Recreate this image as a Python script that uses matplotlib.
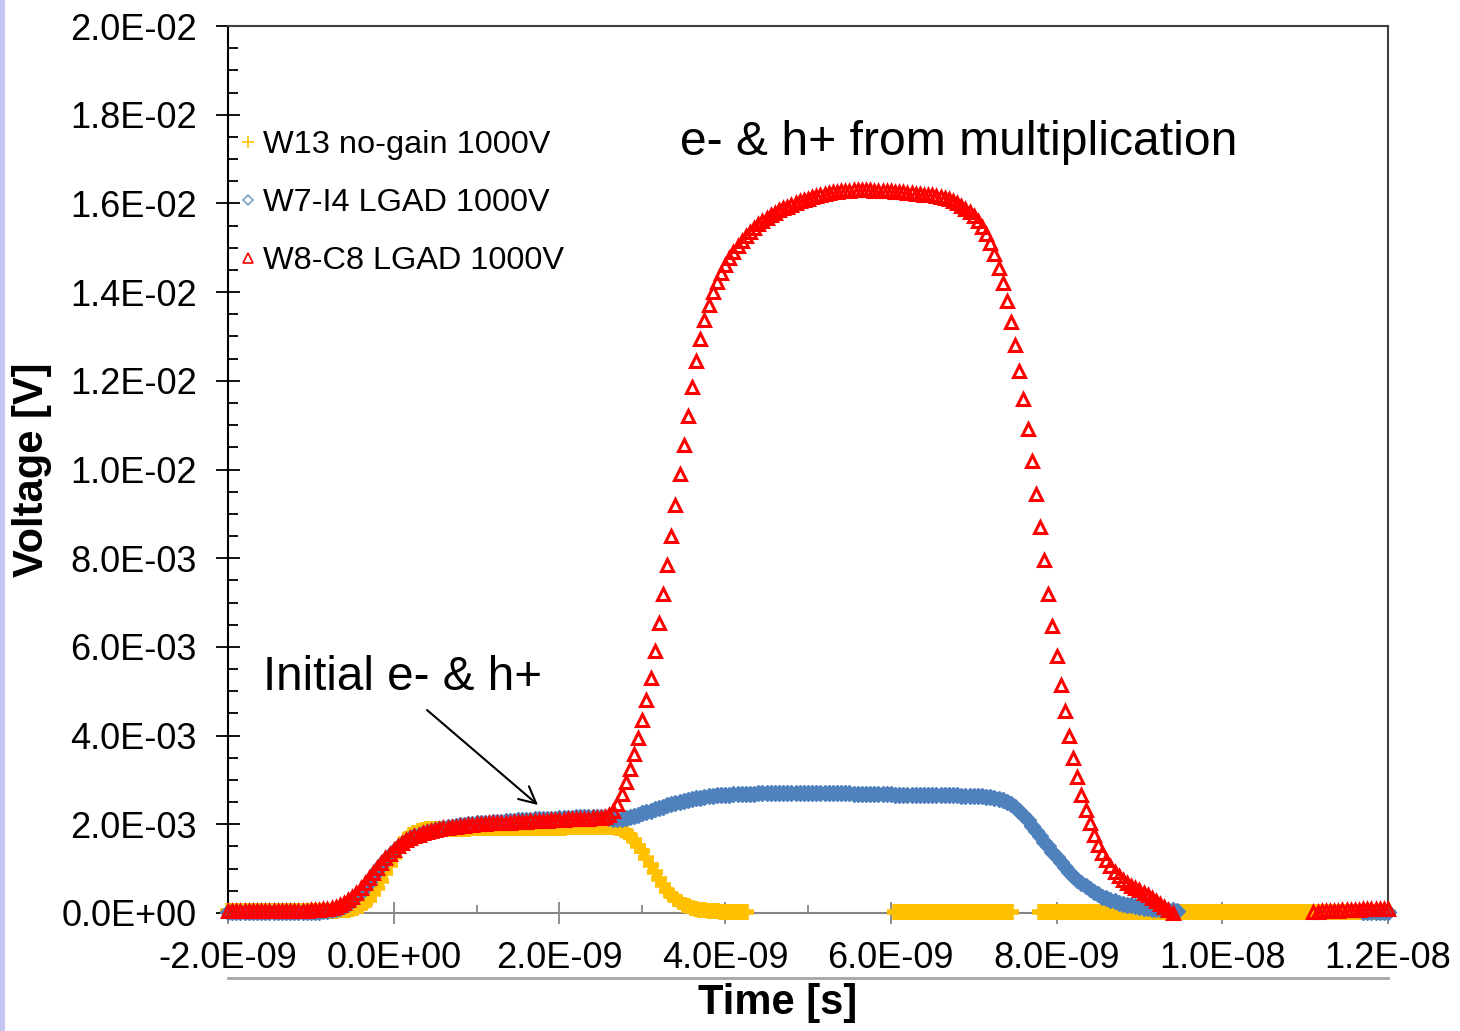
import numpy as np
import matplotlib
matplotlib.use("Agg")
import matplotlib.pyplot as plt
from matplotlib.ticker import MultipleLocator, FuncFormatter
from matplotlib.lines import Line2D
from matplotlib.patches import Rectangle

nan = np.nan

# sampling times in ns (-2.00 ... 12.00, step 0.05 ns)
time_ns = np.round(np.arange(-2.0, 12.0001, 0.05), 2)

# W13 no-gain 1000V  (mV)
w13_mV = [
    0.04, 0.04, 0.04, 0.04, 0.04, 0.04, 0.04, 0.04, 0.04, 0.04, 0.04, 0.04, 0.04, 0.04, 0.04, 0.04, 0.04, 0.04, 0.04, 0.04,
    0.04, 0.04, 0.04, 0.05, 0.05, 0.05, 0.05, 0.06, 0.06, 0.07, 0.09, 0.12, 0.16, 0.22, 0.30, 0.42, 0.56, 0.72, 0.90, 1.08,
    1.26, 1.42, 1.56, 1.67, 1.75, 1.81, 1.85, 1.87, 1.89, 1.90, 1.90, 1.90, 1.90, 1.90, 1.90, 1.90, 1.90, 1.90, 1.90, 1.91,
    1.91, 1.91, 1.91, 1.91, 1.91, 1.91, 1.91, 1.91, 1.91, 1.91, 1.92, 1.92, 1.92, 1.92, 1.92, 1.92, 1.92, 1.92, 1.92, 1.92,
    1.92, 1.92, 1.93, 1.93, 1.93, 1.93, 1.93, 1.94, 1.94, 1.94, 1.94, 1.94, 1.94, 1.93, 1.91, 1.87, 1.82, 1.74, 1.64, 1.52,
    1.39, 1.24, 1.08, 0.92, 0.77, 0.63, 0.50, 0.40, 0.31, 0.24, 0.19, 0.15, 0.12, 0.09, 0.07, 0.06, 0.05, 0.04, 0.04, 0.03,
    0.03, 0.03, 0.03, 0.03, 0.03, 0.03, nan, nan, nan, nan, nan, nan, nan, nan, nan, nan, nan, nan, nan, nan,
    nan, nan, nan, nan, nan, nan, nan, nan, nan, nan, nan, nan, nan, nan, nan, nan, nan, nan, nan, nan,
    nan, 0.03, 0.03, 0.03, 0.03, 0.03, 0.03, 0.03, 0.03, 0.03, 0.03, 0.03, 0.03, 0.03, 0.03, 0.03, 0.03, 0.03, 0.03, 0.03,
    0.03, 0.03, 0.03, 0.03, 0.03, 0.03, 0.03, 0.03, 0.03, 0.03, nan, nan, nan, nan, nan, nan, 0.03, 0.03, 0.03, 0.03,
    0.03, 0.03, 0.03, 0.03, 0.03, 0.03, 0.03, 0.03, 0.03, 0.03, 0.03, 0.03, 0.03, 0.03, 0.03, 0.03, 0.03, 0.03, 0.03, 0.03,
    0.03, 0.03, 0.03, 0.03, 0.03, 0.03, 0.03, 0.03, 0.03, 0.03, 0.03, 0.03, 0.03, 0.03, 0.03, 0.03, 0.03, 0.03, 0.03, 0.03,
    0.03, 0.03, 0.03, 0.03, 0.03, 0.03, 0.03, 0.03, 0.03, 0.03, 0.03, 0.03, 0.03, 0.03, 0.03, 0.03, 0.03, 0.03, 0.03, 0.03,
    0.03, 0.03, 0.03, 0.03, 0.03, 0.03, 0.03, 0.03, 0.03, 0.03, 0.03, 0.03, 0.03, 0.03, 0.03, 0.03, 0.03, 0.03, 0.03, 0.03,
    0.03,
]

# W7-I4 LGAD 1000V  (mV)
w7_mV = [
    0.02, 0.02, 0.02, 0.02, 0.02, 0.02, 0.02, 0.02, 0.02, 0.02, 0.02, 0.02, 0.02, 0.02, 0.02, 0.02, 0.02, 0.02, 0.02, 0.02,
    0.02, 0.03, 0.03, 0.04, 0.05, 0.06, 0.08, 0.11, 0.15, 0.21, 0.29, 0.38, 0.48, 0.59, 0.71, 0.83, 0.96, 1.08, 1.19, 1.30,
    1.40, 1.49, 1.56, 1.63, 1.68, 1.73, 1.77, 1.80, 1.83, 1.86, 1.88, 1.90, 1.92, 1.94, 1.95, 1.96, 1.98, 1.99, 2.00, 2.01,
    2.02, 2.03, 2.04, 2.04, 2.05, 2.06, 2.06, 2.07, 2.07, 2.08, 2.09, 2.09, 2.10, 2.10, 2.11, 2.11, 2.12, 2.12, 2.13, 2.13,
    2.14, 2.14, 2.15, 2.15, 2.16, 2.16, 2.16, 2.17, 2.17, 2.17, 2.17, 2.16, 2.14, 2.13, 2.12, 2.13, 2.15, 2.17, 2.19, 2.22,
    2.25, 2.28, 2.31, 2.34, 2.37, 2.40, 2.43, 2.46, 2.49, 2.51, 2.53, 2.55, 2.57, 2.59, 2.60, 2.62, 2.63, 2.64, 2.65, 2.66,
    2.67, 2.67, 2.68, 2.68, 2.68, 2.69, 2.69, 2.69, 2.70, 2.70, 2.70, 2.70, 2.71, 2.71, 2.71, 2.71, 2.71, 2.71, 2.71, 2.71,
    2.71, 2.71, 2.71, 2.71, 2.70, 2.70, 2.70, 2.70, 2.70, 2.70, 2.70, 2.69, 2.69, 2.69, 2.69, 2.68, 2.68, 2.68, 2.68, 2.68,
    2.68, 2.67, 2.67, 2.67, 2.67, 2.67, 2.66, 2.66, 2.66, 2.66, 2.66, 2.66, 2.65, 2.65, 2.65, 2.65, 2.65, 2.64, 2.64, 2.64,
    2.64, 2.63, 2.63, 2.62, 2.61, 2.60, 2.58, 2.55, 2.51, 2.46, 2.39, 2.30, 2.20, 2.09, 1.97, 1.85, 1.73, 1.61, 1.50, 1.38,
    1.26, 1.14, 1.03, 0.93, 0.84, 0.75, 0.67, 0.60, 0.53, 0.47, 0.42, 0.37, 0.33, 0.29, 0.26, 0.23, 0.21, 0.19, 0.17, 0.15,
    0.14, 0.12, 0.11, 0.10, 0.09, 0.08, 0.08, 0.07, 0.06, 0.05, nan, nan, nan, nan, nan, nan, nan, nan, nan, nan,
    nan, nan, nan, nan, nan, nan, nan, nan, nan, nan, nan, nan, nan, nan, nan, nan, nan, nan, nan, nan,
    nan, nan, nan, nan, nan, nan, nan, nan, nan, nan, nan, nan, nan, nan, 0.02, 0.02, 0.02, 0.02, 0.02, 0.02,
    0.02,
]

# W8-C8 LGAD 1000V  (mV)
w8_mV = [
    0.05, 0.05, 0.05, 0.05, 0.05, 0.05, 0.05, 0.05, 0.05, 0.05, 0.05, 0.05, 0.05, 0.05, 0.05, 0.05, 0.05, 0.05, 0.05, 0.05,
    0.06, 0.06, 0.07, 0.08, 0.09, 0.11, 0.13, 0.17, 0.22, 0.29, 0.37, 0.46, 0.56, 0.67, 0.78, 0.90, 1.02, 1.13, 1.24, 1.34,
    1.43, 1.51, 1.58, 1.64, 1.69, 1.73, 1.77, 1.80, 1.83, 1.85, 1.87, 1.89, 1.91, 1.92, 1.93, 1.95, 1.96, 1.97, 1.98, 1.99,
    2.00, 2.01, 2.01, 2.02, 2.02, 2.03, 2.03, 2.04, 2.04, 2.05, 2.05, 2.06, 2.06, 2.07, 2.07, 2.08, 2.08, 2.08, 2.09, 2.09,
    2.10, 2.10, 2.11, 2.11, 2.12, 2.12, 2.13, 2.13, 2.14, 2.14, 2.15, 2.16, 2.20, 2.30, 2.46, 2.68, 2.95, 3.25, 3.58, 3.95,
    4.35, 4.80, 5.30, 5.90, 6.55, 7.20, 7.85, 8.50, 9.20, 9.90, 10.55, 11.20, 11.85, 12.45, 12.95, 13.38, 13.72, 14.00, 14.22, 14.42,
    14.60, 14.76, 14.90, 15.03, 15.15, 15.26, 15.36, 15.45, 15.53, 15.60, 15.67, 15.73, 15.79, 15.84, 15.89, 15.93, 15.97, 16.01, 16.05, 16.08,
    16.11, 16.14, 16.17, 16.19, 16.21, 16.23, 16.25, 16.26, 16.27, 16.28, 16.29, 16.30, 16.30, 16.30, 16.30, 16.30, 16.29, 16.29, 16.28, 16.28,
    16.27, 16.26, 16.25, 16.25, 16.24, 16.23, 16.22, 16.21, 16.20, 16.19, 16.18, 16.16, 16.14, 16.12, 16.09, 16.05, 16.00, 15.94, 15.87, 15.80,
    15.72, 15.60, 15.47, 15.30, 15.10, 14.85, 14.55, 14.20, 13.80, 13.32, 12.80, 12.22, 11.60, 10.92, 10.20, 9.45, 8.70, 7.95, 7.20, 6.48,
    5.80, 5.15, 4.55, 4.00, 3.50, 3.06, 2.66, 2.32, 2.02, 1.76, 1.54, 1.35, 1.19, 1.05, 0.93, 0.83, 0.74, 0.67, 0.61, 0.56,
    0.51, 0.46, 0.40, 0.34, 0.27, 0.20, 0.13, 0.06, 0.01, nan, nan, nan, nan, nan, nan, nan, nan, nan, nan, nan,
    nan, nan, nan, nan, nan, nan, nan, nan, nan, nan, nan, nan, nan, nan, nan, nan, nan, nan, nan, nan,
    nan, nan, 0.03, 0.03, 0.04, 0.04, 0.05, 0.05, 0.05, 0.06, 0.06, 0.07, 0.07, 0.07, 0.08, 0.08, 0.09, 0.09, 0.09, 0.10,
    0.10,
]

series_labels = ["W13 no-gain 1000V", "W7-I4 LGAD 1000V", "W8-C8 LGAD 1000V"]
annot_init = "Initial e- & h+"
annot_mult = "e- & h+ from multiplication"

plt.rcParams['font.family'] = ['Liberation Sans', 'DejaVu Sans']

W, H = 1460, 1031
fig = plt.figure(figsize=(W / 100, H / 100), dpi=100)
fig.patch.set_facecolor('white')
ax = fig.add_axes([228 / W, 1 - 913 / H, 1160 / W, 887 / H])

t = time_ns * 1e-9
ax.plot(t, np.array(w13_mV) * 1e-3, linestyle='none', marker='+', ms=11, mew=4.0,
        color='#FFC000', clip_on=False, label=series_labels[0], zorder=3)
ax.plot(t, np.array(w7_mV) * 1e-3, linestyle='none', marker='D', ms=8.5, mew=1.0,
        mfc='#4F81BD', mec='#4F81BD', clip_on=False, label=series_labels[1], zorder=4)
ax.plot(t, np.array(w8_mV) * 1e-3, linestyle='none', marker='^', ms=9, mew=2.2,
        mfc='none', mec='#FF0000', clip_on=False, label=series_labels[2], zorder=5)

ax.set_xlim(-2e-9, 1.2e-8)
ax.set_ylim(0, 0.02)
ax.xaxis.set_major_locator(MultipleLocator(2e-9))
ax.xaxis.set_minor_locator(MultipleLocator(1e-9))
ax.yaxis.set_major_locator(MultipleLocator(0.002))
ax.yaxis.set_minor_locator(MultipleLocator(0.0005))


def fmt_x(v, p):
    if abs(v) < 1e-13:
        v = 0.0
    return f"{v:.1E}"


def fmt_y(v, p):
    if abs(v) < 1e-7:
        v = 0.0
    return f"{v:.1E}"


ax.xaxis.set_major_formatter(FuncFormatter(fmt_x))
ax.yaxis.set_major_formatter(FuncFormatter(fmt_y))

ax.tick_params(axis='y', which='major', direction='inout', length=17, width=1.3,
               color='black', labelsize=26, pad=14)
ax.tick_params(axis='y', which='minor', direction='in', length=7, width=1.3, color='black')
ax.tick_params(axis='x', which='major', direction='inout', length=16, width=1.3,
               color='#868686', labelsize=26, pad=12)
ax.tick_params(axis='x', which='minor', direction='in', length=6, width=1.3, color='#868686')

ax.spines['left'].set_color('black')
ax.spines['left'].set_linewidth(1.5)
ax.spines['bottom'].set_color('#868686')
ax.spines['bottom'].set_linewidth(1.5)
for s in ('top', 'right'):
    ax.spines[s].set_color('#404040')
    ax.spines[s].set_linewidth(1.5)

ax.set_ylabel('Voltage [V]', fontsize=30, fontweight='bold')
ax.yaxis.set_label_coords((32 - 228) / 1160, 0.5)
ax.yaxis.label.set_verticalalignment('center')
ax.set_xlabel('Time [s]', fontsize=30, fontweight='bold')
ax.xaxis.set_label_coords((778 - 228) / 1160, (913 - 1003) / 887)
ax.xaxis.label.set_verticalalignment('center')

leg = ax.legend(loc='center left', bbox_to_anchor=((238 - 228) / 1160, (913 - 203) / 887),
                frameon=False, fontsize=23.4, handlelength=0.6, handletextpad=0.16,
                labelspacing=0.86, borderpad=0, borderaxespad=0)
for h, ms in zip(leg.legend_handles, (8, 5.5, 6.5)):
    h.set_markeredgewidth(1.2)
    h.set_markersize(ms)
leg.legend_handles[1].set_markerfacecolor('none')
leg.legend_handles[1].set_markeredgecolor('#7FA3D3')

ax.annotate('', xy=(1.741e-9, 2.435e-3), xytext=(0.4017e-9, 4.577e-3),
            arrowprops=dict(arrowstyle='->', color='black', lw=1.5,
                            mutation_scale=30, shrinkA=0, shrinkB=0), zorder=6)
ax.text(-1.578e-9, 5.32e-3, annot_init, fontsize=34.3, va='center', ha='left')
ax.text(3.455e-9, 17.38e-3, annot_mult, fontsize=34.6, va='center', ha='left')

fig.add_artist(Line2D([228 / W, 1388 / W], [1 - 978 / H, 1 - 978 / H],
                      color='#A6A6A6', lw=2, transform=fig.transFigure))
fig.add_artist(Rectangle((0, 0), 5 / W, 1, transform=fig.transFigure,
                         color='#C6C6F2', lw=0))

fig.savefig('out.png', dpi=100)
